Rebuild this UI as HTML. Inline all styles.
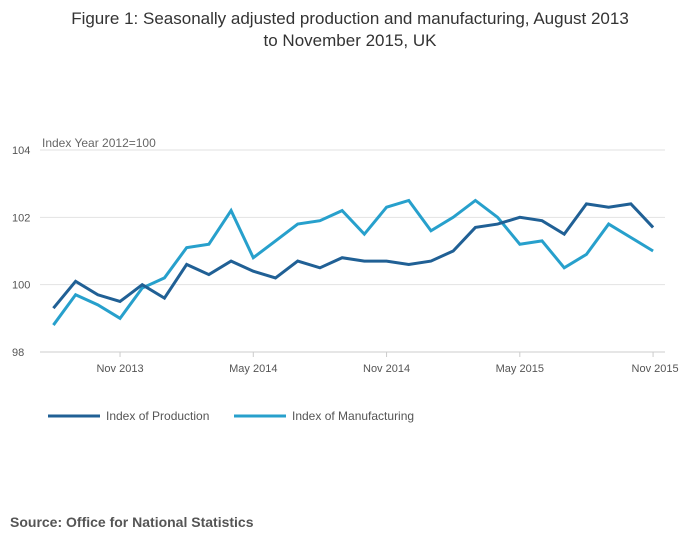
<!DOCTYPE html>
<html><head><meta charset="utf-8">
<style>
body{margin:0;background:#fff;font-family:"Liberation Sans",sans-serif;}
svg text{font-family:"Liberation Sans",sans-serif;}
</style></head>
<body>
<svg width="700" height="549" id="chart">
<text x="350" y="24" text-anchor="middle" font-size="17" fill="#333">Figure 1: Seasonally adjusted production and manufacturing, August 2013</text>
<text x="350" y="46" text-anchor="middle" font-size="17" fill="#333">to November 2015, UK</text>
<text x="42" y="147" font-size="12" fill="#666">Index Year 2012=100</text>
<g id="grid"></g>
<g id="lines"></g>
<g>
<line x1="48" y1="416" x2="100" y2="416" stroke="#206095" stroke-width="3"/>
<text x="106" y="420" font-size="12" fill="#555">Index of Production</text>
<line x1="234" y1="416" x2="286" y2="416" stroke="#27a0cc" stroke-width="3"/>
<text x="292" y="420" font-size="12" fill="#555">Index of Manufacturing</text>
</g>
<text x="10" y="527" font-size="14" font-weight="bold" fill="#555">Source: Office for National Statistics</text>
</svg>
<script>
const production=[99.3,100.1,99.7,99.5,100.0,99.6,100.6,100.3,100.7,100.4,100.2,100.7,100.5,100.8,100.7,100.7,100.6,100.7,101.0,101.7,101.8,102.0,101.9,101.5,102.4,102.3,102.4,101.7];
const manufacturing=[98.8,99.7,99.4,99.0,99.9,100.2,101.1,101.2,102.2,100.8,101.3,101.8,101.9,102.2,101.5,102.3,102.5,101.6,102.0,102.5,102.0,101.2,101.3,100.5,100.9,101.8,101.4,101.0];
const yTicks=[98,100,102,104];
const xTickLabels=["Nov 2013","May 2014","Nov 2014","May 2015","Nov 2015"];
const xTickIndex=[3,9,15,21,27];
const NS="http://www.w3.org/2000/svg";
const x=i=>53.4+i*22.21;
const y=v=>352-(v-98)*33.67;
const grid=document.getElementById('grid'),lines=document.getElementById('lines');
function mk(tag,attrs,parent){const e=document.createElementNS(NS,tag);for(const k in attrs)e.setAttribute(k,attrs[k]);parent.appendChild(e);return e;}
yTicks.forEach(t=>{
  const l=mk('line',{x1:40,x2:665,y1:y(t),y2:y(t),stroke:t===98?'#ccc':'#e2e2e2','stroke-width':1},grid);
  
  
  const tx=mk('text',{x:12,y:y(t)+4,'font-size':11,fill:'#555'},grid);tx.textContent=t;
  
  
});
xTickIndex.forEach((idx,k)=>{
  const l=mk('line',{x1:x(idx),x2:x(idx),y1:352,y2:357,stroke:'#ccc'},grid);
  
  
  const tx=mk('text',{x:x(idx)+(k===4?2:0),y:372,'font-size':11,fill:'#555','text-anchor':'middle'},grid);tx.textContent=xTickLabels[k];
  
  
});
function series(vals,color,name){
  const p=mk('polyline',{points:vals.map((v,i)=>x(i)+','+y(v)).join(' '),fill:'none',stroke:color,'stroke-width':3,'stroke-linejoin':'miter'},lines);
  
  
}
series(manufacturing,'#27a0cc','manufacturing-line');
series(production,'#206095','production-line');
</script>
</body></html>
